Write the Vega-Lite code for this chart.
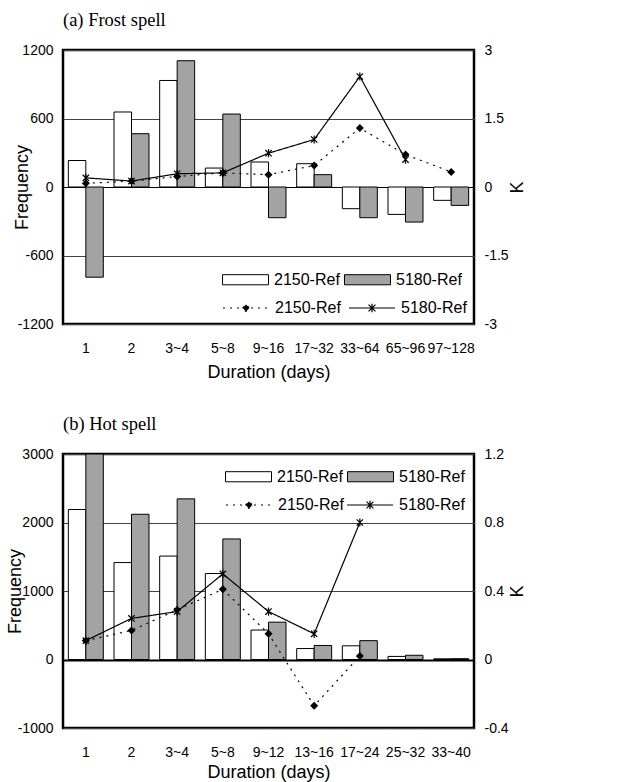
{
  "$schema": "https://vega.github.io/schema/vega-lite/v6.json",
  "padding": {"top": 9, "left": 4, "right": 5, "bottom": 0},
  "spacing": 30,
  "config": {
    "view": {"stroke": "black", "strokeWidth": 2.5},
    "font": "Liberation Sans",
    "axis": {"domain": false, "ticks": false, "labelFont": "Liberation Sans", "labelFontSize": 14, "labelColor": "black", "titleFont": "Liberation Sans", "titleFontSize": 18, "titleFontWeight": "normal", "titleColor": "black", "gridColor": "#444", "gridWidth": 1, "gridOpacity": 1},
    "legend": {"padding": 0, "labelFont": "Liberation Sans", "labelFontSize": 16, "labelColor": "black", "labelOffset": 5, "columnPadding": 2},
    "title": {"font": "Liberation Serif", "fontSize": 18.5, "fontWeight": "normal", "color": "black", "anchor": "start", "frame": "group", "offset": 14}
  },
  "resolve": {
    "scale": {"fill": "independent", "strokeDash": "independent", "shape": "independent", "stroke": "independent"},
    "legend": {"fill": "independent", "strokeDash": "independent", "stroke": "independent", "shape": "independent"}
  },
  "datasets": {
    "barsA": [
      {"cat": "1", "bar_series": "2150-Ref", "freq": 232}, {"cat": "1", "bar_series": "5180-Ref", "freq": -790},
      {"cat": "2", "bar_series": "2150-Ref", "freq": 657}, {"cat": "2", "bar_series": "5180-Ref", "freq": 467},
      {"cat": "3~4", "bar_series": "2150-Ref", "freq": 933}, {"cat": "3~4", "bar_series": "5180-Ref", "freq": 1106},
      {"cat": "5~8", "bar_series": "2150-Ref", "freq": 166}, {"cat": "5~8", "bar_series": "5180-Ref", "freq": 639},
      {"cat": "9~16", "bar_series": "2150-Ref", "freq": 219}, {"cat": "9~16", "bar_series": "5180-Ref", "freq": -269},
      {"cat": "17~32", "bar_series": "2150-Ref", "freq": 204}, {"cat": "17~32", "bar_series": "5180-Ref", "freq": 108},
      {"cat": "33~64", "bar_series": "2150-Ref", "freq": -190}, {"cat": "33~64", "bar_series": "5180-Ref", "freq": -269},
      {"cat": "65~96", "bar_series": "2150-Ref", "freq": -240}, {"cat": "65~96", "bar_series": "5180-Ref", "freq": -307},
      {"cat": "97~128", "bar_series": "2150-Ref", "freq": -117}, {"cat": "97~128", "bar_series": "5180-Ref", "freq": -161}
    ],
    "linesA": [
      {"cat": "1", "line_series": "2150-Ref", "k": 0.08},
      {"cat": "2", "line_series": "2150-Ref", "k": 0.13},
      {"cat": "3~4", "line_series": "2150-Ref", "k": 0.23},
      {"cat": "5~8", "line_series": "2150-Ref", "k": 0.31},
      {"cat": "9~16", "line_series": "2150-Ref", "k": 0.27},
      {"cat": "17~32", "line_series": "2150-Ref", "k": 0.47},
      {"cat": "33~64", "line_series": "2150-Ref", "k": 1.29},
      {"cat": "65~96", "line_series": "2150-Ref", "k": 0.71},
      {"cat": "97~128", "line_series": "2150-Ref", "k": 0.33},
      {"cat": "1", "line_series": "5180-Ref", "k": 0.2},
      {"cat": "2", "line_series": "5180-Ref", "k": 0.13},
      {"cat": "3~4", "line_series": "5180-Ref", "k": 0.29},
      {"cat": "5~8", "line_series": "5180-Ref", "k": 0.31},
      {"cat": "9~16", "line_series": "5180-Ref", "k": 0.74},
      {"cat": "17~32", "line_series": "5180-Ref", "k": 1.04},
      {"cat": "33~64", "line_series": "5180-Ref", "k": 2.42},
      {"cat": "65~96", "line_series": "5180-Ref", "k": 0.6}
    ],
    "barsB": [
      {"cat": "1", "bar_series": "2150-Ref", "freq": 2190}, {"cat": "1", "bar_series": "5180-Ref", "freq": 3000},
      {"cat": "2", "bar_series": "2150-Ref", "freq": 1415}, {"cat": "2", "bar_series": "5180-Ref", "freq": 2120},
      {"cat": "3~4", "bar_series": "2150-Ref", "freq": 1510}, {"cat": "3~4", "bar_series": "5180-Ref", "freq": 2345},
      {"cat": "5~8", "bar_series": "2150-Ref", "freq": 1255}, {"cat": "5~8", "bar_series": "5180-Ref", "freq": 1760},
      {"cat": "9~12", "bar_series": "2150-Ref", "freq": 430}, {"cat": "9~12", "bar_series": "5180-Ref", "freq": 545},
      {"cat": "13~16", "bar_series": "2150-Ref", "freq": 160}, {"cat": "13~16", "bar_series": "5180-Ref", "freq": 205},
      {"cat": "17~24", "bar_series": "2150-Ref", "freq": 200}, {"cat": "17~24", "bar_series": "5180-Ref", "freq": 275},
      {"cat": "25~32", "bar_series": "2150-Ref", "freq": 45}, {"cat": "25~32", "bar_series": "5180-Ref", "freq": 62},
      {"cat": "33~40", "bar_series": "2150-Ref", "freq": 10}, {"cat": "33~40", "bar_series": "5180-Ref", "freq": 12}
    ],
    "linesB": [
      {"cat": "1", "line_series": "2150-Ref", "k": 0.11},
      {"cat": "2", "line_series": "2150-Ref", "k": 0.17},
      {"cat": "3~4", "line_series": "2150-Ref", "k": 0.29},
      {"cat": "5~8", "line_series": "2150-Ref", "k": 0.41},
      {"cat": "9~12", "line_series": "2150-Ref", "k": 0.15},
      {"cat": "13~16", "line_series": "2150-Ref", "k": -0.27},
      {"cat": "17~24", "line_series": "2150-Ref", "k": 0.02},
      {"cat": "1", "line_series": "5180-Ref", "k": 0.11},
      {"cat": "2", "line_series": "5180-Ref", "k": 0.24},
      {"cat": "3~4", "line_series": "5180-Ref", "k": 0.28},
      {"cat": "5~8", "line_series": "5180-Ref", "k": 0.5},
      {"cat": "9~12", "line_series": "5180-Ref", "k": 0.28},
      {"cat": "13~16", "line_series": "5180-Ref", "k": 0.15},
      {"cat": "17~24", "line_series": "5180-Ref", "k": 0.8}
    ]
  },
  "vconcat": [
    {
      "title": {"text": "(a) Frost spell"},
      "width": 411,
      "height": 274,
      "layer": [
        {
          "data": {"name": "barsA"},
          "mark": {"type": "bar", "stroke": "black", "strokeWidth": 1},
          "encoding": {
            "x": {"field": "cat", "type": "nominal", "scale": {"domain": ["1", "2", "3~4", "5~8", "9~16", "17~32", "33~64", "65~96", "97~128"], "paddingInner": 0.234, "paddingOuter": 0.117}, "axis": {"title": "Duration (days)", "labelAngle": 0, "labelPadding": 17, "titlePadding": 8, "grid": false}},
            "xOffset": {"field": "bar_series", "type": "nominal", "scale": {"paddingInner": 0}},
            "y": {"field": "freq", "type": "quantitative", "scale": {"domain": [-1200, 1200], "nice": false}, "axis": {"title": "Frequency", "values": [-1200, -600, 0, 600, 1200], "labelExpr": "'' + datum.value", "labelPadding": 10, "titleX": -41, "titleAngle": 270, "titleBaseline": "middle", "grid": true, "gridColor": {"condition": {"test": "datum.value === 0", "value": "black"}, "value": "#444"}}},
            "fill": {"field": "bar_series", "type": "nominal", "scale": {"range": ["#ffffff", "#a3a3a3"]}, "legend": {"title": null, "orient": "none", "legendX": 159, "legendY": 206, "direction": "horizontal", "symbolType": "M-1,-0.22H1V0.22H-1Z", "symbolSize": 2116, "symbolStrokeColor": "black", "symbolStrokeWidth": 1}}
          }
        },
        {
          "layer": [
            {
              "data": {"name": "linesA"},
              "mark": {"type": "line", "color": "black", "strokeWidth": 1.2},
              "encoding": {
                "x": {"field": "cat", "type": "nominal", "scale": {"domain": ["1", "2", "3~4", "5~8", "9~16", "17~32", "33~64", "65~96", "97~128"]}},
                "y": {"field": "k", "type": "quantitative", "scale": {"domain": [-3, 3], "nice": false}, "axis": {"orient": "right", "title": "K", "values": [-3, -1.5, 0, 1.5, 3], "labelExpr": "'' + datum.value", "labelPadding": 10, "titleAngle": 270, "titleX": 43, "titleBaseline": "middle", "grid": false}},
                "strokeDash": {"field": "line_series", "type": "nominal", "scale": {"range": [[2, 5], [1, 0]]}, "legend": {"title": null, "orient": "none", "legendX": 159, "legendY": 234, "values": ["2150-Ref"], "symbolType": "M-1,0H1M-0.15,0L0,-0.15L0.15,0L0,0.15Z", "symbolSize": 2116, "symbolStrokeWidth": 1.2, "symbolFillColor": "black", "symbolStrokeColor": "black"}},
                "order": {"value": null}
              }
            },
            {
              "data": {"name": "linesA"},
              "mark": {"type": "point", "filled": true, "fill": "black", "strokeWidth": 1.2, "opacity": 1, "size": 40},
              "encoding": {
                "x": {"field": "cat", "type": "nominal"},
                "y": {"field": "k", "type": "quantitative", "scale": {"domain": [-3, 3], "nice": false}, "axis": {"orient": "right", "title": "K", "values": [-3, -1.5, 0, 1.5, 3], "labelExpr": "'' + datum.value", "labelPadding": 10, "titleAngle": 270, "titleX": 43, "titleBaseline": "middle", "grid": false}},
                "shape": {"field": "line_series", "type": "nominal", "scale": {"range": ["diamond", "M-1,-1L1,1M-1,1L1,-1M0,-1.3V1.3"]}, "legend": null},
                "stroke": {"field": "line_series", "type": "nominal", "scale": {"domain": ["2150-Ref", "5180-Ref"], "range": ["black", "black"]}, "legend": {"title": null, "orient": "none", "legendX": 285, "legendY": 234, "values": ["5180-Ref"], "symbolType": "M-1,0H1M-0.15,-0.15L0.15,0.15M-0.15,0.15L0.15,-0.15M0,-0.19V0.19", "symbolSize": 2116, "symbolStrokeWidth": 1.2, "symbolFillColor": "black"}}
              }
            }
          ]
        }
      ],
      "resolve": {"scale": {"y": "independent"}}
    },
    {
      "title": {"text": "(b) Hot spell"},
      "width": 411,
      "height": 274,
      "layer": [
        {
          "data": {"name": "barsB"},
          "mark": {"type": "bar", "stroke": "black", "strokeWidth": 1},
          "encoding": {
            "x": {"field": "cat", "type": "nominal", "scale": {"domain": ["1", "2", "3~4", "5~8", "9~12", "13~16", "17~24", "25~32", "33~40"], "paddingInner": 0.234, "paddingOuter": 0.117}, "axis": {"title": "Duration (days)", "labelAngle": 0, "labelPadding": 17, "titlePadding": 4, "grid": false}},
            "xOffset": {"field": "bar_series", "type": "nominal", "scale": {"paddingInner": 0}},
            "y": {"field": "freq", "type": "quantitative", "scale": {"domain": [-1000, 3000], "nice": false}, "axis": {"title": "Frequency", "values": [-1000, 0, 1000, 2000, 3000], "labelExpr": "'' + datum.value", "labelPadding": 10, "titleX": -48, "titleAngle": 270, "titleBaseline": "middle", "grid": true, "gridColor": {"condition": {"test": "datum.value === 0", "value": "black"}, "value": "#444"}, "gridWidth": {"condition": {"test": "datum.value === 0", "value": 2}, "value": 1}}},
            "fill": {"field": "bar_series", "type": "nominal", "scale": {"range": ["#ffffff", "#a3a3a3"]}, "legend": {"title": null, "orient": "none", "legendX": 162, "legendY": -1, "direction": "horizontal", "symbolType": "M-1,-0.22H1V0.22H-1Z", "symbolSize": 2116, "symbolStrokeColor": "black", "symbolStrokeWidth": 1}}
          }
        },
        {
          "layer": [
            {
              "data": {"name": "linesB"},
              "mark": {"type": "line", "color": "black", "strokeWidth": 1.2},
              "encoding": {
                "x": {"field": "cat", "type": "nominal", "scale": {"domain": ["1", "2", "3~4", "5~8", "9~12", "13~16", "17~24", "25~32", "33~40"]}},
                "y": {"field": "k", "type": "quantitative", "scale": {"domain": [-0.4, 1.2], "nice": false}, "axis": {"orient": "right", "title": "K", "values": [-0.4, 0, 0.4, 0.8, 1.2], "labelExpr": "'' + datum.value", "labelPadding": 10, "titleAngle": 270, "titleX": 43, "titleBaseline": "middle", "grid": false}},
                "strokeDash": {"field": "line_series", "type": "nominal", "scale": {"range": [[2, 5], [1, 0]]}, "legend": {"title": null, "orient": "none", "legendX": 162, "legendY": 27, "values": ["2150-Ref"], "symbolType": "M-1,0H1M-0.15,0L0,-0.15L0.15,0L0,0.15Z", "symbolSize": 2116, "symbolStrokeWidth": 1.2, "symbolFillColor": "black", "symbolStrokeColor": "black"}},
                "order": {"value": null}
              }
            },
            {
              "data": {"name": "linesB"},
              "mark": {"type": "point", "filled": true, "fill": "black", "strokeWidth": 1.2, "opacity": 1, "size": 40},
              "encoding": {
                "x": {"field": "cat", "type": "nominal"},
                "y": {"field": "k", "type": "quantitative", "scale": {"domain": [-0.4, 1.2], "nice": false}, "axis": {"orient": "right", "title": "K", "values": [-0.4, 0, 0.4, 0.8, 1.2], "labelExpr": "'' + datum.value", "labelPadding": 10, "titleAngle": 270, "titleX": 43, "titleBaseline": "middle", "grid": false}},
                "shape": {"field": "line_series", "type": "nominal", "scale": {"range": ["diamond", "M-1,-1L1,1M-1,1L1,-1M0,-1.3V1.3"]}, "legend": null},
                "stroke": {"field": "line_series", "type": "nominal", "scale": {"domain": ["2150-Ref", "5180-Ref"], "range": ["black", "black"]}, "legend": {"title": null, "orient": "none", "legendX": 283, "legendY": 27, "values": ["5180-Ref"], "symbolType": "M-1,0H1M-0.15,-0.15L0.15,0.15M-0.15,0.15L0.15,-0.15M0,-0.19V0.19", "symbolSize": 2116, "symbolStrokeWidth": 1.2, "symbolFillColor": "black"}}
              }
            }
          ]
        }
      ],
      "resolve": {"scale": {"y": "independent"}}
    }
  ]
}
